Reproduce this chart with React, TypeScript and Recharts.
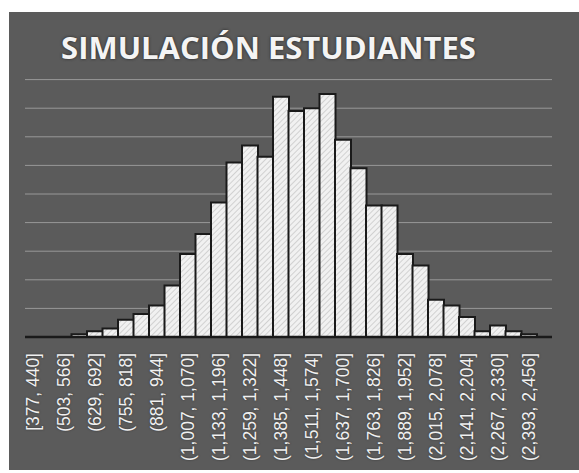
import React from "react";
import { Bar, BarChart, CartesianGrid, XAxis, YAxis } from "recharts";

// histogram bins (width 63) and simulated counts per bin
const binLabels = [
  "[377, 440]", "(440, 503]", "(503, 566]", "(566, 629]", "(629, 692]", "(692, 755]",
  "(755, 818]", "(818, 881]", "(881, 944]", "(944, 1,007]", "(1,007, 1,070]", "(1,070, 1,133]",
  "(1,133, 1,196]", "(1,196, 1,259]", "(1,259, 1,322]", "(1,322, 1,385]", "(1,385, 1,448]",
  "(1,448, 1,511]", "(1,511, 1,574]", "(1,574, 1,637]", "(1,637, 1,700]", "(1,700, 1,763]",
  "(1,763, 1,826]", "(1,826, 1,889]", "(1,889, 1,952]", "(1,952, 2,015]", "(2,015, 2,078]",
  "(2,078, 2,141]", "(2,141, 2,204]", "(2,204, 2,267]", "(2,267, 2,330]", "(2,330, 2,393]",
  "(2,393, 2,456]", "(2,456, 2,519]",
];
const frequencies = [
  0, 0, 0, 1, 2, 3, 6, 8, 11, 18, 29, 36, 47, 61, 67, 63, 84,
  79, 80, 85, 69, 59, 46, 46, 29, 25, 13, 11, 7, 2, 4, 2, 1, 0,
];
const yTicks = [0, 10, 20, 30, 40, 50, 60, 70, 80, 90];

const data = binLabels.map((bin, i) => ({ bin, count: frequencies[i] }));

function BinTick(props: any) {
  const { x, y, payload } = props;
  return (
    <text
      x={x}
      y={y}
      transform={`rotate(-90, ${x}, ${y})`}
      textAnchor="end"
      dominantBaseline="central"
      fill="#f0f0f0"
      fontSize={17.5}
      fontFamily="'Liberation Sans', Arial, sans-serif"
      style={{ textShadow: "0 0 2px #333" }}
    >
      {payload.value}
    </text>
  );
}

export default function App() {
  return (
    <div style={{ position: "absolute", left: 0, top: 0, width: 579, height: 473, background: "#fff" }}>
      <div
        style={{ position: "absolute", left: 9, top: 12, width: 570, height: 458, background: "#5b5b5b" }}
      />
      <svg width={579} height={473} style={{ position: "absolute", left: 0, top: 0 }}>
        <text
          x={268.5}
          y={59}
          textAnchor="middle"
          fill="#f4f4f4"
          fontSize={31}
          fontWeight={700}
          fontFamily="'Open Sans', sans-serif"
          style={{ textShadow: "0 0 3px #222" }}
        >
          SIMULACIÓN ESTUDIANTES
        </text>
      </svg>
      <div style={{ position: "absolute", left: 0, top: 0 }}>
        <BarChart
          width={579}
          height={473}
          data={data}
          barCategoryGap={0}
          margin={{ top: 79.6, right: 27, bottom: 16, left: 25 }}
        >
          <defs>
            <pattern id="hatch" width="4" height="4" patternUnits="userSpaceOnUse" patternTransform="rotate(45)">
              <rect width="4" height="4" fill="#f1f1f1" />
              <line x1="0" y1="0" x2="0" y2="4" stroke="#bcbcbc" strokeWidth="1.2" />
            </pattern>
          </defs>
          <CartesianGrid horizontal vertical={false} stroke="#999" strokeWidth={1} />
          <YAxis hide domain={[0, 90]} ticks={yTicks} />
          <XAxis
            dataKey="bin"
            height={120}
            interval={1}
            tickLine={false}
            tickSize={0}
            tickMargin={16}
            stroke="#1a1a1a"
            strokeWidth={2.5}
            tick={<BinTick />}
          />
          <Bar
            dataKey="count"
            fill="url(#hatch)"
            stroke="#1a1a1a"
            strokeWidth={2}
            isAnimationActive={false}
          />
        </BarChart>
      </div>
    </div>
  );
}
